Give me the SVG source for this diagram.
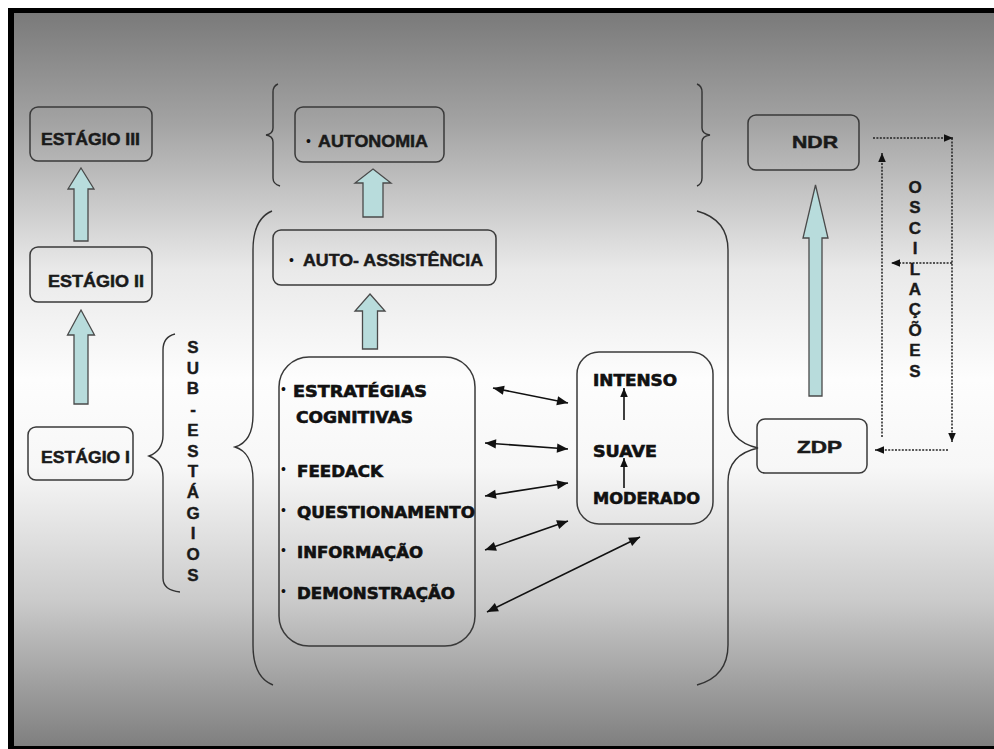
<svg xmlns="http://www.w3.org/2000/svg" width="994" height="749" viewBox="0 0 994 749">
<defs>
<linearGradient id="bg" x1="0" y1="13" x2="0" y2="746" gradientUnits="userSpaceOnUse">
<stop offset="0" stop-color="#7a7a7a"/>
<stop offset="0.15" stop-color="#a3a3a3"/>
<stop offset="0.35" stop-color="#e9e9e9"/>
<stop offset="0.5" stop-color="#fdfdfd"/>
<stop offset="0.62" stop-color="#f7f7f7"/>
<stop offset="0.8" stop-color="#cbcbcb"/>
<stop offset="1" stop-color="#7f7f7f"/>
</linearGradient>
<marker id="ah" viewBox="0 0 10 10" refX="10" refY="5" markerWidth="12" markerHeight="11" markerUnits="userSpaceOnUse" orient="auto-start-reverse">
<path d="M0,0.8 L10,5 L0,9.2 z" fill="#111"/>
</marker>
<marker id="ahs" viewBox="0 0 10 10" refX="10" refY="5" markerWidth="10" markerHeight="9" markerUnits="userSpaceOnUse" orient="auto-start-reverse">
<path d="M0,0.8 L10,5 L0,9.2 z" fill="#111"/>
</marker>
</defs>
<style>
.box{fill:none;stroke:#3a3a3a;stroke-width:1.5}
.blk{fill:#b8dcdc;stroke:#4a4a4a;stroke-width:1.3}
.brace{fill:none;stroke:#333;stroke-width:1.4}
.lbl{font-family:"Liberation Sans",Arial,sans-serif;font-weight:bold;font-size:17px;fill:#1a1a1a;stroke:#1a1a1a;stroke-width:0.5}
.wide{font-family:"DejaVu Sans",Verdana,sans-serif;font-weight:bold;font-size:15px;fill:#111;stroke:#111;stroke-width:0.6}
.bul{font-family:"Liberation Sans",Arial,sans-serif;font-size:14px;fill:#111}
.vert{font-family:"Liberation Sans",Arial,sans-serif;font-weight:bold;font-size:17px;fill:#1a1a1a;stroke:#1a1a1a;stroke-width:0.4;text-anchor:middle}
.dbl{stroke:#111;stroke-width:1.6;fill:none;marker-start:url(#ah);marker-end:url(#ah)}
.sgl{stroke:#111;stroke-width:1.6;fill:none;marker-end:url(#ahs)}
.dot{stroke:#222;stroke-width:1.5;fill:none;stroke-dasharray:2 1.4;marker-end:url(#ahs)}
</style>
<rect x="0" y="0" width="994" height="749" fill="#ffffff"/>
<rect x="8" y="8" width="986" height="741" fill="#000000"/>
<rect x="14" y="13" width="980" height="733" fill="url(#bg)"/>

<g id="braces">
<path class="brace" d="M278,84 Q273,86 273,92 L273,128 Q273,134 266,135 Q273,136 273,142 L273,178 Q273,184 280,186"/>
<path class="brace" d="M697,84 Q702,86 702,92 L702,128 Q702,134 710,135 Q702,136 702,142 L702,178 Q702,184 697,186"/>
<path class="brace" d="M272,211 C260,216 253,228 253,250 L253,415 C253,435 245,444 235,447 C245,450 253,460 253,480 L253,645 C253,668 260,680 273,685"/>
<path class="brace" d="M697,211 C715,216 728,228 728,250 L728,413 C728,433 740,444 758,448 C740,452 728,462 728,482 L728,645 C728,668 715,680 697,685"/>
<path class="brace" d="M175,334 C167,336 163,341 163,350 L163,435 C163,447 157,453 149,456 C157,459 163,465 163,477 L163,578 C163,587 170,591 180,592"/>
</g>

<g id="estagio3">
<rect class="box" x="30" y="107" width="122" height="54" rx="8"/>
<text class="lbl" x="41" y="145" textLength="99" lengthAdjust="spacingAndGlyphs">ESTÁGIO III</text>
</g>
<g id="estagio2">
<rect class="box" x="30" y="247" width="122" height="55" rx="8"/>
<text class="lbl" x="48" y="287" textLength="96" lengthAdjust="spacingAndGlyphs">ESTÁGIO II</text>
</g>
<g id="estagio1">
<rect class="box" x="28" y="427" width="105" height="53" rx="8"/>
<text class="lbl" x="41" y="463" textLength="89" lengthAdjust="spacingAndGlyphs">ESTÁGIO I</text>
</g>
<g id="subestagios">
<text class="vert" x="193" y="353">S</text>
<text class="vert" x="193" y="373.7">U</text>
<text class="vert" x="193" y="394.4">B</text>
<text class="vert" x="193" y="415.1">-</text>
<text class="vert" x="193" y="435.8">E</text>
<text class="vert" x="193" y="456.5">S</text>
<text class="vert" x="193" y="477.2">T</text>
<text class="vert" x="193" y="497.9">Á</text>
<text class="vert" x="193" y="518.6">G</text>
<text class="vert" x="193" y="539.3">I</text>
<text class="vert" x="193" y="560">O</text>
<text class="vert" x="193" y="580.7">S</text>
</g>
<g id="autonomia">
<rect class="box" x="295" y="107" width="149" height="55" rx="8"/>
<text class="bul" x="306" y="146">•</text>
<text class="lbl" x="318" y="147" textLength="110" lengthAdjust="spacingAndGlyphs">AUTONOMIA</text>
</g>
<g id="autoassistencia">
<rect class="box" x="273" y="230" width="223" height="55" rx="8"/>
<text class="bul" x="289" y="265">•</text>
<text class="lbl" x="303" y="266" textLength="180" lengthAdjust="spacingAndGlyphs">AUTO- ASSISTÊNCIA</text>
</g>
<g id="estrategias">
<rect class="box" x="279" y="357" width="196" height="289" rx="30"/>
<text class="bul" x="281" y="394">•</text>
<text class="wide" x="293" y="397" textLength="134" lengthAdjust="spacingAndGlyphs">ESTRATÉGIAS</text>
<text class="wide" x="296" y="423" textLength="117" lengthAdjust="spacingAndGlyphs">COGNITIVAS</text>
<text class="bul" x="281" y="474">•</text>
<text class="wide" x="297" y="477" textLength="86" lengthAdjust="spacingAndGlyphs">FEEDACK</text>
<text class="bul" x="281" y="515">•</text>
<text class="wide" x="297" y="518" textLength="178" lengthAdjust="spacingAndGlyphs">QUESTIONAMENTO</text>
<text class="bul" x="281" y="555">•</text>
<text class="wide" x="297" y="558" textLength="126" lengthAdjust="spacingAndGlyphs">INFORMAÇÃO</text>
<text class="bul" x="281" y="596">•</text>
<text class="wide" x="297" y="599" textLength="158" lengthAdjust="spacingAndGlyphs">DEMONSTRAÇÃO</text>
</g>
<g id="intensidade">
<rect class="box" x="577" y="352" width="136" height="172" rx="22"/>
<text class="wide" x="593" y="386" textLength="84" lengthAdjust="spacingAndGlyphs">INTENSO</text>
<text class="wide" x="593" y="457" textLength="64" lengthAdjust="spacingAndGlyphs">SUAVE</text>
<text class="wide" x="593" y="504" textLength="107" lengthAdjust="spacingAndGlyphs">MODERADO</text>
</g>
<g id="ndr">
<rect class="box" x="748" y="115" width="111" height="55" rx="8"/>
<text class="lbl" x="792" y="148" textLength="46" lengthAdjust="spacingAndGlyphs">NDR</text>
</g>
<g id="zdp">
<rect class="box" x="757" y="419" width="110" height="54" rx="8"/>
<text class="lbl" x="797" y="453" textLength="45" lengthAdjust="spacingAndGlyphs">ZDP</text>
</g>
<g id="oscilacoes">
<text class="vert" x="915" y="193">O</text>
<text class="vert" x="915" y="213.4">S</text>
<text class="vert" x="915" y="233.8">C</text>
<text class="vert" x="915" y="254.2">I</text>
<text class="vert" x="915" y="274.6">L</text>
<text class="vert" x="915" y="295">A</text>
<text class="vert" x="915" y="315.4">Ç</text>
<text class="vert" x="915" y="335.8">Õ</text>
<text class="vert" x="915" y="356.2">E</text>
<text class="vert" x="915" y="376.6">S</text>
</g>

<g id="connectors">
<path class="blk" d="M81,168 L94,189 L88,189 L88,241 L74,241 L74,189 L68,189 Z"/>
<path class="blk" d="M81,310 L94.5,335 L88,335 L88,404 L74,404 L74,335 L67.5,335 Z"/>
<path class="blk" d="M373,169 L391,183 L383,183 L383,217 L363,217 L363,183 L355,183 Z"/>
<path class="blk" d="M370,294 L385,311 L377.5,311 L377.5,349 L362.5,349 L362.5,311 L355,311 Z"/>
<path class="blk" d="M815.5,185 L828,238 L822,238 L822,396 L809,396 L809,238 L803,238 Z"/>
<line class="dbl" x1="493" y1="388" x2="568" y2="403"/>
<line class="dbl" x1="485" y1="443" x2="568" y2="449"/>
<line class="dbl" x1="485" y1="496" x2="568" y2="483"/>
<line class="dbl" x1="485" y1="550" x2="568" y2="521"/>
<line class="dbl" x1="487" y1="612" x2="640" y2="537"/>
<line class="sgl" x1="624" y1="420" x2="624" y2="388"/>
<line class="sgl" x1="624" y1="488" x2="624" y2="458"/>
<line class="dot" x1="873" y1="138" x2="953" y2="138"/>
<line class="dot" x1="952" y1="138" x2="952" y2="442"/>
<line class="dot" x1="952" y1="263" x2="891" y2="263"/>
<line class="dot" x1="948" y1="450" x2="875" y2="450"/>
<line class="dot" x1="882" y1="437" x2="882" y2="153"/>
</g>
</svg>
